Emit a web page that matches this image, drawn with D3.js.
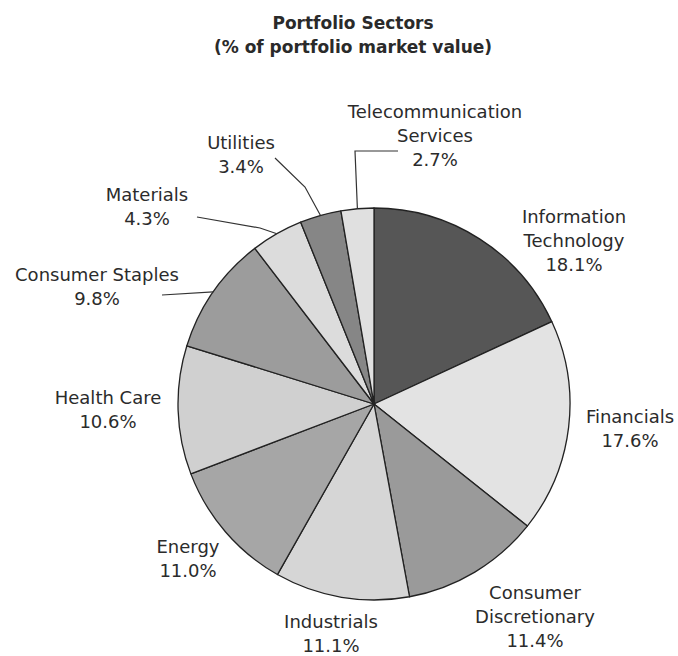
<!DOCTYPE html>
<html>
<head>
	<meta charset="utf-8">
	<title>Portfolio Sectors</title>
	<script type="text/javascript" src="https://cdn.jsdelivr.net/npm/d3@7"></script>
	<style type="text/css">
		body { margin: 0; background: #fff; }
		.title { font-family: "DejaVu Sans", sans-serif; font-weight: bold; font-size: 17px; fill: #2a2a2a; }
		.label { font-family: "DejaVu Sans", sans-serif; font-size: 18px; fill: #2b2b2b; }
	</style>
</head>
<body>
	<div id="chart"></div>
	<script type="text/javascript">
		// data
		var sectors = ["Information Technology", "Financials", "Consumer Discretionary", "Industrials",
			"Energy", "Health Care", "Consumer Staples", "Materials", "Utilities", "Telecommunication Services"];
		var shares = [18.1, 17.6, 11.4, 11.1, 11.0, 10.6, 9.8, 4.3, 3.4, 2.7];
		var shades = ["#565656", "#e3e3e3", "#9a9a9a", "#d6d6d6", "#a6a6a6",
			"#d0d0d0", "#9c9c9c", "#dcdcdc", "#868686", "#e0e0e0"];

		var w = 678, h = 656;
		var cx = 374, cy = 404, radius = 196;

		// label layout: text lines, centre x, first baseline y, optional leader elbow points
		var labelLayout = [
			{ lines: ["Information", "Technology"], x: 574, y: 223 },
			{ lines: ["Financials"], x: 630, y: 423 },
			{ lines: ["Consumer", "Discretionary"], x: 535, y: 599 },
			{ lines: ["Industrials"], x: 331, y: 628 },
			{ lines: ["Energy"], x: 188, y: 553 },
			{ lines: ["Health Care"], x: 108, y: 404 },
			{ lines: ["Consumer Staples"], x: 97, y: 281, leader: [[162, 295]] },
			{ lines: ["Materials"], x: 147, y: 201, leader: [[260, 228], [197, 217]] },
			{ lines: ["Utilities"], x: 241, y: 149, leader: [[305, 187], [275, 158]] },
			{ lines: ["Telecommunication", "Services"], x: 435, y: 118, leader: [[355, 151], [398, 151]] }
		];

		var svg = d3.select("#chart")
					.append("svg")
					.attr("width", w)
					.attr("height", h);

		svg.append("text")
			.attr("class", "title")
			.attr("x", 353).attr("y", 29)
			.attr("text-anchor", "middle")
			.text("Portfolio Sectors");
		svg.append("text")
			.attr("class", "title")
			.attr("x", 353).attr("y", 53)
			.attr("text-anchor", "middle")
			.text("(% of portfolio market value)");

		var pie = d3.pie().sort(null).value(function(d){ return d; });
		var arcs = pie(shares);
		var arc = d3.arc().innerRadius(0).outerRadius(radius);

		var g = svg.append("g")
					.attr("transform", "translate(" + cx + "," + cy + ")");

		g.selectAll("path")
			.data(arcs)
			.enter()
			.append("path")
			.attr("d", arc)
			.attr("fill", function(d, i){ return shades[i]; })
			.attr("stroke", "#222")
			.attr("stroke-width", 1.3)
			.attr("stroke-linejoin", "round");

		// leader lines start on the rim at each slice's mid angle
		arcs.forEach(function(a, i){
			var lay = labelLayout[i];
			if (!lay.leader) return;
			var mid = (a.startAngle + a.endAngle) / 2;
			var pts = [[cx + radius * Math.sin(mid), cy - radius * Math.cos(mid)]].concat(lay.leader);
			svg.append("path")
				.attr("d", d3.line()(pts))
				.attr("fill", "none")
				.attr("stroke", "#333")
				.attr("stroke-width", 1.2);
		});

		// labels
		labelLayout.forEach(function(lay, i){
			var t = svg.append("text")
						.attr("class", "label")
						.attr("text-anchor", "middle")
						.attr("x", lay.x)
						.attr("y", lay.y);
			var all = lay.lines.concat([shares[i].toFixed(1) + "%"]);
			t.selectAll("tspan")
				.data(all)
				.enter()
				.append("tspan")
				.attr("x", lay.x)
				.attr("dy", function(d, j){ return j == 0 ? 0 : 24; })
				.text(function(d){ return d; });
		});
	</script>
</body>
</html>
